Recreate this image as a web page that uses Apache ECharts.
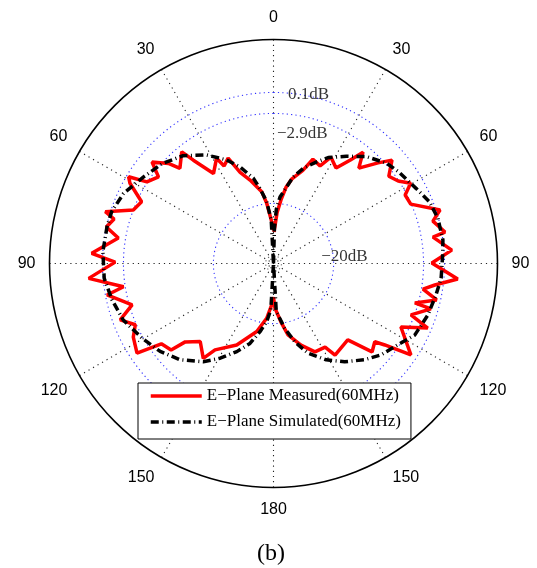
<!DOCTYPE html>
<html><head><meta charset="utf-8">
<script src="https://cdn.jsdelivr.net/npm/echarts@6/dist/echarts.min.js"></script>
<style>html,body{margin:0;padding:0;background:#fff}#c{width:537px;height:568px}</style>
</head><body><div id="c"></div>
<script>
// angle tick labels (clockwise from top)
const angleTickLabels = ['0','30','60','90','120','150','180','150','120','90','60','30'];

// Simulated pattern (angle in degrees, level in dB)
const simAngles = [0,1.5,3,5.6,12.8,17.4,23,27.3,34.2,41.1,48.5,53.7,62.2,68.4,74.6,82.1,87.1,95,100.9,108.4,116.9,123.2,130.3,136.6,144.1,151.3,159,164.8,170.2,176.7,180,
  183.3,186.7,191.2,196.4,202.6,209.4,215.6,224.1,232.2,240.4,249.4,257.3,265,274,282.4,287.8,295,303.7,312,320,328.4,335.7,340.9,346.7,349.8,353.7,357,360];
const simValues = [-30.9,-24.5,-21.0,-18.8,-14.8,-12.8,-10.9,-9.3,-7.4,-5.2,-3.5,-2.8,-1.7,-0.5,0.0,0.1,-0.2,-0.4,-0.9,-1.4,-2.2,-4.0,-5.3,-6.9,-8.9,-11.0,-13.5,-16.2,-19.0,-22.2,-30.9,
  -22.5,-20.3,-18.3,-15.8,-13.6,-11.2,-9.0,-6.6,-4.9,-3.5,-1.8,-0.9,-0.1,0.1,0.0,-0.1,-0.9,-2.6,-3.8,-5.4,-7.8,-10.3,-12.4,-15.0,-17.1,-19.6,-23.0,-30.9];

// Measured pattern (angle in degrees, level in dB)
const measAngles = [0.9,4.0,6.7,9.3,12.3,17.5,20.7,25.5,28.4,33.2,36.5,38.8,41.8,46.1,48.9,52.9,56.5,59.7,62.5,66.6,72.2,75.1,79.6,80.6,85.7,89.8,94.8,97.6,99.7,102.6,105.6,106.1,110.5,112.7,116.5,123.6,126.2,127.7,131.9,135.8,146.1,148.3,154.9,161.4,168.5,172.7,178.1,180,
  182.5,187.1,193.8,204.3,214.1,216.5,223.2,228.4,229.8,234.4,236.7,242.3,246.1,249.8,253.7,259.3,261.2,265.4,270.5,273.2,279.3,282.3,285.6,287.1,290.9,295.1,299.2,300.9,302.8,307,309.9,313.6,315.5,320.6,322.2,326.3,331.6,333.1,336.7,339.9,344.3,350.7,353.6,357.5,359.7];
const measValues = [-25.2,-21.7,-19.3,-16.9,-15.2,-13.2,-10.7,-11.3,-9.0,-10.2,-7.6,-5.0,-7.7,-4.6,-2.4,-4.7,-3.8,-2.1,-4.0,-3.8,0.8,-1.0,0.7,-1.6,1.5,-2.2,2.6,-1.4,-3.4,-0.6,-4.3,-1.2,-4.3,-0.6,-5.1,-1.0,-5.9,-7.7,-6.9,-11.6,-10.9,-13.1,-13.2,-15.3,-17.7,-20.2,-22.8,-24.8,
  -23.4,-20.9,-18.2,-14.7,-12.0,-9.5,-11.5,-9.5,-6.6,-5.9,-1.3,-2.2,-3.5,-1.3,-4.2,-0.2,-3.4,2.7,-2.2,2.1,-2.4,0.1,-0.9,1.0,-3.7,-4.5,-1.1,-0.3,-3.6,-4.8,-2.2,-4.6,-6.7,-4.7,-7.2,-11.3,-9.2,-11.1,-10.1,-13.3,-15.2,-17.7,-19.9,-23.3,-24.8];

// Reference rings (as drawn) and their labels
const ringLevels = [0.1, -3.7, -20, -29.45];
const ringLabels = ['0.1dB', '\u22122.9dB', '\u221220dB', ''];
const ringAngles = Array.from({length: 181}, (_, i) => i * 2);

const seriesNames = ['E\u2212Plane Measured(60MHz)', 'E\u2212Plane Simulated(60MHz)'];

const chart = echarts.init(document.getElementById('c'));
const serif = 'Liberation Serif';

const ringSeries = ringLevels.map((lv, i) => ({
  type: 'line', coordinateSystem: 'polar', symbol: 'none', silent: true, z: 1,
  data: ringAngles.map(a => [lv, a]),
  lineStyle: { color: i === 3 ? '#666' : '#2f2fff', width: 1.1, type: [1.2, 3.2] }
}));

const labelStyles = [
  { offset: [14, 2] },
  { offset: [3, 20] },
  { offset: [-13, -7] }
];
const labelAnchorAngles = [0, 0, 90];

const labelSeries = {
  type: 'scatter', coordinateSystem: 'polar', symbolSize: 1, silent: true, z: 5,
  itemStyle: { color: 'rgba(0,0,0,0)' },
  data: [0, 1, 2].map(i => ({
    value: [ringLevels[i], labelAnchorAngles[i]],
    label: {
      show: true, position: 'right', distance: 0, offset: labelStyles[i].offset,
      formatter: ringLabels[i], fontFamily: serif, fontSize: 17, color: '#000'
    }
  }))
};

chart.setOption({
  animation: false,
  backgroundColor: '#fff',
  title: {
    text: '(b)', left: 252, top: 537,
    textStyle: { fontFamily: serif, fontSize: 24, fontWeight: 'normal', color: '#000' }
  },
  polar: { center: [273.5, 263.5], radius: 224 },
  angleAxis: {
    type: 'value', min: 0, max: 360, interval: 30, startAngle: 90, clockwise: true,
    axisLine: { show: true, lineStyle: { color: '#000', width: 1.6 } },
    axisTick: { show: false },
    splitLine: { show: true, lineStyle: { color: '#222', width: 1.1, type: [1.2, 4] } },
    axisLabel: {
      margin: 14, fontFamily: 'Liberation Sans', fontSize: 16, color: '#000',
      formatter: v => angleTickLabels[Math.round(v / 30) % 12]
    }
  },
  radiusAxis: {
    type: 'value', min: -30.9, max: 9.7,
    axisLine: { show: false }, axisTick: { show: false }, axisLabel: { show: false },
    splitLine: { show: false }
  },
  legend: {
    data: seriesNames, orient: 'vertical', left: 138, top: 383,
    padding: [3, 10, 7, 11], itemGap: 6, itemWidth: 51, itemHeight: 14,
    itemStyle: { opacity: 0 },
    lineStyle: { width: 3.5 },
    backgroundColor: '#fff', borderColor: '#000', borderWidth: 1, borderRadius: 0,
    textStyle: { fontFamily: serif, fontSize: 17, color: '#000', lineHeight: 20 }
  },
  series: [
    ...ringSeries,
    labelSeries,
    {
      name: seriesNames[0], type: 'line', coordinateSystem: 'polar', symbol: 'none', z: 3,
      data: measAngles.map((a, i) => [measValues[i], a]),
      lineStyle: { color: '#ff0000', width: 3.5 }, itemStyle: { color: '#ff0000' }
    },
    {
      name: seriesNames[1], type: 'line', coordinateSystem: 'polar', symbol: 'none', z: 4,
      data: simAngles.map((a, i) => [simValues[i], a]),
      lineStyle: { color: '#000', width: 3.5, type: [8, 3.5, 1, 3.5] }, itemStyle: { color: '#000' }
    }
  ]
});
</script></body></html>
